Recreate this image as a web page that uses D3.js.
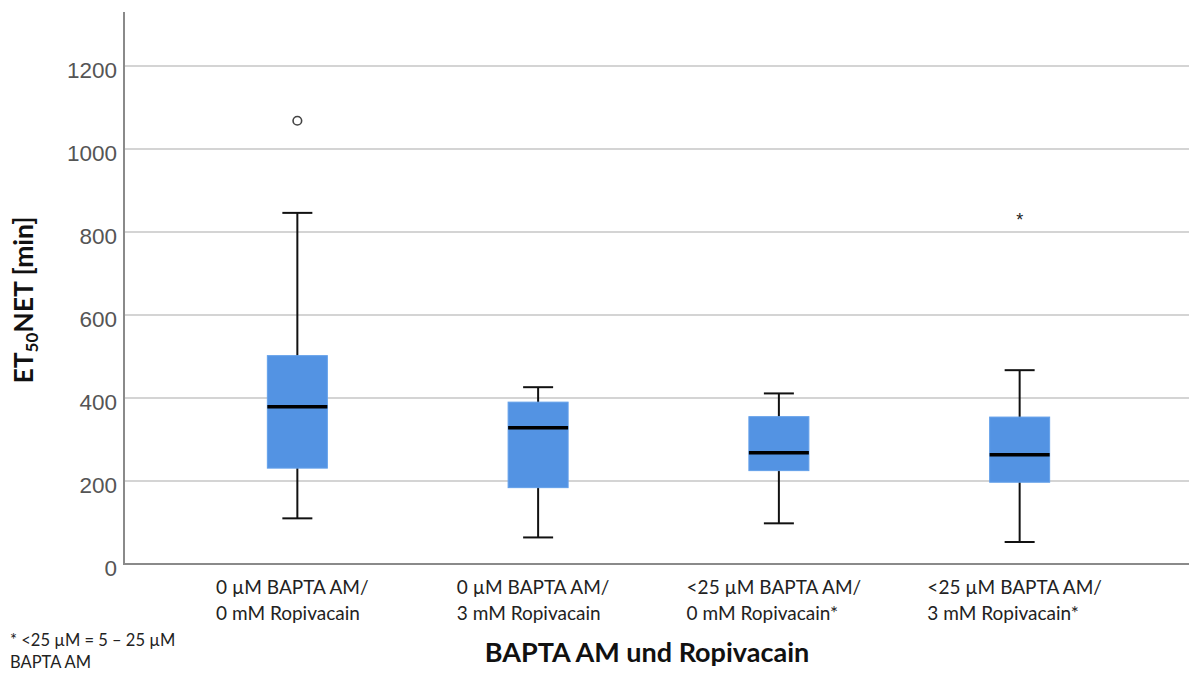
<!DOCTYPE html>
<html>
<head>
<meta charset="utf-8">
<script src="https://cdn.jsdelivr.net/npm/d3@7/dist/d3.min.js"></script>
<style>
  html, body { margin: 0; padding: 0; background: #fff; }
  svg { display: block; }
</style>
</head>
<body>
<svg id="chart" width="1189" height="673"></svg>
<script>
// Groups (two-line category labels)
const categories = ["g1", "g2", "g3", "g4"];
const categoryLines = [
  ["0 µM BAPTA AM/", "0 mM Ropivacain"],
  ["0 µM BAPTA AM/", "3 mM Ropivacain"],
  ["<25 µM BAPTA AM/", "0 mM Ropivacain*"],
  ["<25 µM BAPTA AM/", "3 mM Ropivacain*"]
];

// Box statistics per group (ET50NET, minutes)
const whiskerLow  = [110, 64, 98, 53];
const quartile1   = [231, 184, 225, 197];
const medians     = [379, 328, 268, 263];
const quartile3   = [502, 390, 355, 354];
const whiskerHigh = [846, 426, 411, 467];

// Outliers: circles = mild outliers, stars = extreme values
const circleOutliers = [{ group: "g1", value: 1068 }];
const starOutliers   = [{ group: "g4", value: 835 }];

const yTicks = [0, 200, 400, 600, 800, 1000, 1200];
const yMax = 1330;

const svg = d3.select("#chart");
const plotL = 124, plotR = 1193, plotT = 12, plotB = 564;

const x = d3.scalePoint().domain(categories).range([plotL, plotR]).padding(0.72);
const y = d3.scaleLinear().domain([0, yMax]).range([plotB, plotT]);

// Horizontal gridlines
svg.append("g")
  .selectAll("line")
  .data(yTicks.filter(d => d > 0))
  .join("line")
  .attr("x1", plotL).attr("x2", 1189)
  .attr("y1", d => y(d)).attr("y2", d => y(d))
  .attr("stroke", "#d4d4d4").attr("stroke-width", 2);

// Y axis with tick labels
const yAxis = d3.axisLeft(y).tickValues(yTicks).tickSize(0).tickPadding(7).tickFormat(d3.format("d"));
const yg = svg.append("g").attr("transform", `translate(${plotL},0)`).call(yAxis);
yg.select(".domain").remove();
yg.selectAll("text")
  .attr("font-family", "'Liberation Sans', Arial, sans-serif")
  .attr("font-size", 22.5)
  .attr("fill", "#555")
  .attr("dy", "0.5em");

// Axis lines
svg.append("line")
  .attr("x1", plotL).attr("x2", plotL).attr("y1", plotT).attr("y2", plotB)
  .attr("stroke", "#8a8a8a").attr("stroke-width", 2);
svg.append("line")
  .attr("x1", plotL - 1).attr("x2", 1189).attr("y1", plotB).attr("y2", plotB)
  .attr("stroke", "#8a8a8a").attr("stroke-width", 2);

const boxW = 60, capW = 30;
const stats = categories.map((c, i) => ({
  c, lo: whiskerLow[i], q1: quartile1[i], med: medians[i], q3: quartile3[i], hi: whiskerHigh[i]
}));

const boxes = svg.append("g").selectAll("g").data(stats).join("g")
  .attr("transform", d => `translate(${x(d.c)},0)`);

// Whisker stems
boxes.append("line")
  .attr("x1", 0).attr("x2", 0)
  .attr("y1", d => y(d.hi)).attr("y2", d => y(d.lo))
  .attr("stroke", "#111").attr("stroke-width", 2);
// Whisker caps
boxes.selectAll("line.cap").data(d => [d.lo, d.hi]).join("line")
  .attr("class", "cap")
  .attr("x1", -capW / 2).attr("x2", capW / 2)
  .attr("y1", v => y(v)).attr("y2", v => y(v))
  .attr("stroke", "#111").attr("stroke-width", 2);
// Interquartile box
boxes.append("rect")
  .attr("x", -boxW / 2).attr("width", boxW)
  .attr("y", d => y(d.q3)).attr("height", d => y(d.q1) - y(d.q3))
  .attr("fill", "#5393e3").attr("stroke", "#63a0ea").attr("stroke-width", 1);
// Median
boxes.append("line")
  .attr("x1", -boxW / 2).attr("x2", boxW / 2)
  .attr("y1", d => y(d.med)).attr("y2", d => y(d.med))
  .attr("stroke", "#000").attr("stroke-width", 3.5);

// Outliers
svg.append("g").selectAll("circle").data(circleOutliers).join("circle")
  .attr("cx", d => x(d.group)).attr("cy", d => y(d.value)).attr("r", 4.3)
  .attr("fill", "#fff").attr("stroke", "#444").attr("stroke-width", 1.6);
svg.append("g").selectAll("text").data(starOutliers).join("text")
  .attr("x", d => x(d.group)).attr("y", d => y(d.value))
  .attr("dy", "0.5em")
  .attr("text-anchor", "middle")
  .attr("font-family", "'Liberation Sans', Arial, sans-serif")
  .attr("font-size", 18).attr("fill", "#222")
  .text("*");

// Category labels: left-aligned two-line blocks under each box
const labelFont = "Lato, 'Open Sans', sans-serif";
categories.forEach((c, i) => {
  const g = svg.append("g");
  const texts = g.selectAll("text").data(categoryLines[i]).join("text")
    .attr("font-family", labelFont).attr("font-size", 19).attr("fill", "#222")
    .attr("y", (d, k) => 594 + k * 25.5)
    .text(d => d);
  const w = d3.max(texts.nodes(), n => n.getComputedTextLength());
  texts.attr("x", x(c) - w / 2 - 5);
});

// Axis titles
const yt = svg.append("text")
  .attr("transform", "translate(33,300) rotate(-90)")
  .attr("text-anchor", "middle")
  .attr("font-family", labelFont).attr("font-weight", "bold")
  .attr("font-size", 26.5).attr("fill", "#111");
yt.append("tspan").text("ET");
yt.append("tspan").attr("font-size", 17).attr("dy", 5).text("50");
yt.append("tspan").attr("dy", -5).text("NET [min]");

svg.append("text")
  .attr("x", 647).attr("y", 662)
  .attr("text-anchor", "middle")
  .attr("font-family", labelFont).attr("font-weight", "bold")
  .attr("font-size", 27).attr("fill", "#111")
  .text("BAPTA AM und Ropivacain");

// Footnote
const fn = svg.append("g").attr("font-family", labelFont).attr("font-size", 16.5).attr("fill", "#222");
fn.append("text").attr("x", 10).attr("y", 646).text("* <25 µM = 5 – 25 µM");
fn.append("text").attr("x", 10).attr("y", 668).text("BAPTA AM");
</script>
</body>
</html>
